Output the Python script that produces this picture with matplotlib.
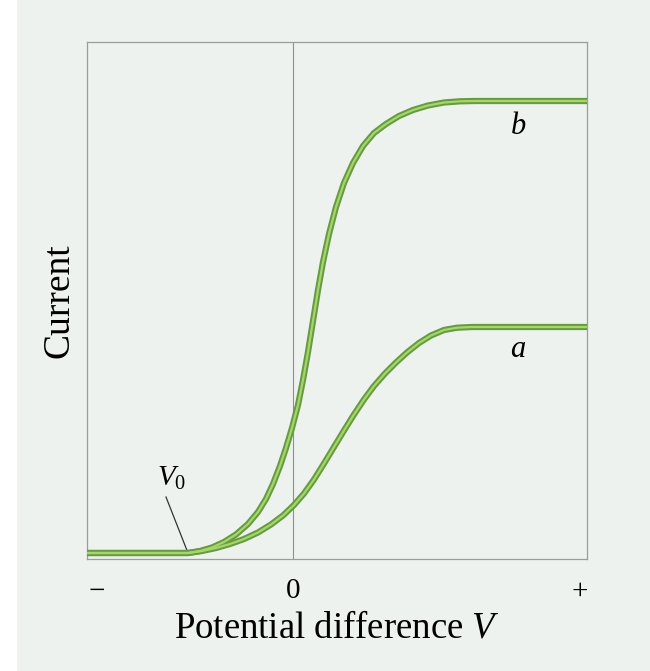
import matplotlib.pyplot as plt
from matplotlib.patches import Rectangle

plt.rcParams['font.family'] = ['Liberation Serif', 'DejaVu Serif']
plt.rcParams['mathtext.fontset'] = 'custom'
plt.rcParams['mathtext.rm'] = 'Liberation Serif'
plt.rcParams['mathtext.it'] = 'Liberation Serif:italic'

# photocurrent vs potential difference, two light intensities (b brighter than a)
volts_b = [-2.06, -1.05, -0.93, -0.81, -0.69, -0.57, -0.45, -0.35, -0.27, -0.20,
           -0.13, -0.07, -0.01, 0.05, 0.10, 0.15, 0.20, 0.25, 0.30, 0.36,
           0.43, 0.51, 0.60, 0.70, 0.81, 0.93, 1.06, 1.20, 1.35, 1.51,
           1.67, 1.82, 2.94]
current_b = [0.06, 0.06, 0.08, 0.115, 0.17, 0.245, 0.35, 0.47, 0.60, 0.75,
             0.93, 1.11, 1.31, 1.54, 1.79, 2.07, 2.38, 2.69, 2.97, 3.25,
             3.52, 3.76, 3.96, 4.13, 4.26, 4.35, 4.43, 4.49, 4.535, 4.565,
             4.577, 4.58, 4.58]
volts_a = [-2.06, -1.05, -0.91, -0.77, -0.63, -0.49, -0.35, -0.22, -0.10, 0.01,
           0.11, 0.21, 0.31, 0.41, 0.51, 0.61, 0.71, 0.81, 0.92, 1.03,
           1.14, 1.26, 1.38, 1.51, 1.64, 1.79, 2.94]
current_a = [0.06, 0.06, 0.08, 0.11, 0.15, 0.20, 0.265, 0.345, 0.435, 0.54,
             0.655, 0.795, 0.955, 1.12, 1.285, 1.445, 1.595, 1.73, 1.855, 1.965,
             2.065, 2.16, 2.235, 2.29, 2.313, 2.32, 2.32]
stop_v = -1.05
tick_pos = [-1.96, 0, 2.87]
tick_text = ['−', '0', '+']

fig = plt.figure(figsize=(6.5, 6.71), dpi=100, facecolor='#eef2ef')
fig.patches.append(Rectangle((0, 0), 16 / 650, 1, transform=fig.transFigure,
                             color='white', zorder=0))
ax = fig.add_axes([87 / 650, 1 - 559 / 671, 500 / 650, 517 / 671])
ax.set_facecolor('none')
ax.set_xlim(-2.06, 2.94)
ax.set_ylim(0, 5.17)

ax.axvline(0, color='#8f8f8f', lw=0.8, zorder=1)
for v, c in [(volts_b, current_b), (volts_a, current_a)]:
    ax.plot(v, c, color='#649d3d', lw=4.5, solid_capstyle='butt',
            solid_joinstyle='round', zorder=3)
    ax.plot(v, c, color='#a9d370', lw=1.6, solid_capstyle='butt',
            solid_joinstyle='round', zorder=4)

ax.text(2.25, 4.32, 'b', style='italic', fontsize=22, ha='center', va='center')
ax.text(2.25, 2.09, 'a', style='italic', fontsize=22, ha='center', va='center')

# stopping potential marker
ax.plot([stop_v, -1.27], [0.06, 0.62], color='#333333', lw=0.9, zorder=2)
ax.text(-1.21, 0.81, '$V_0$', fontsize=21, ha='center', va='center')

for s in ax.spines.values():
    s.set_color('#9c9c9c')
    s.set_linewidth(0.9)
ax.set_yticks([])
ax.set_xticks(tick_pos)
ax.set_xticklabels(tick_text, fontsize=21)
ax.tick_params(axis='x', length=0, pad=14)
ax.set_xlabel('Potential difference $V$', fontsize=26.5, labelpad=5)
ax.set_ylabel('Current', fontsize=27)
ax.yaxis.set_label_coords(-0.022, 0.5)

fig.savefig('out.png', dpi=100, facecolor=fig.get_facecolor())
